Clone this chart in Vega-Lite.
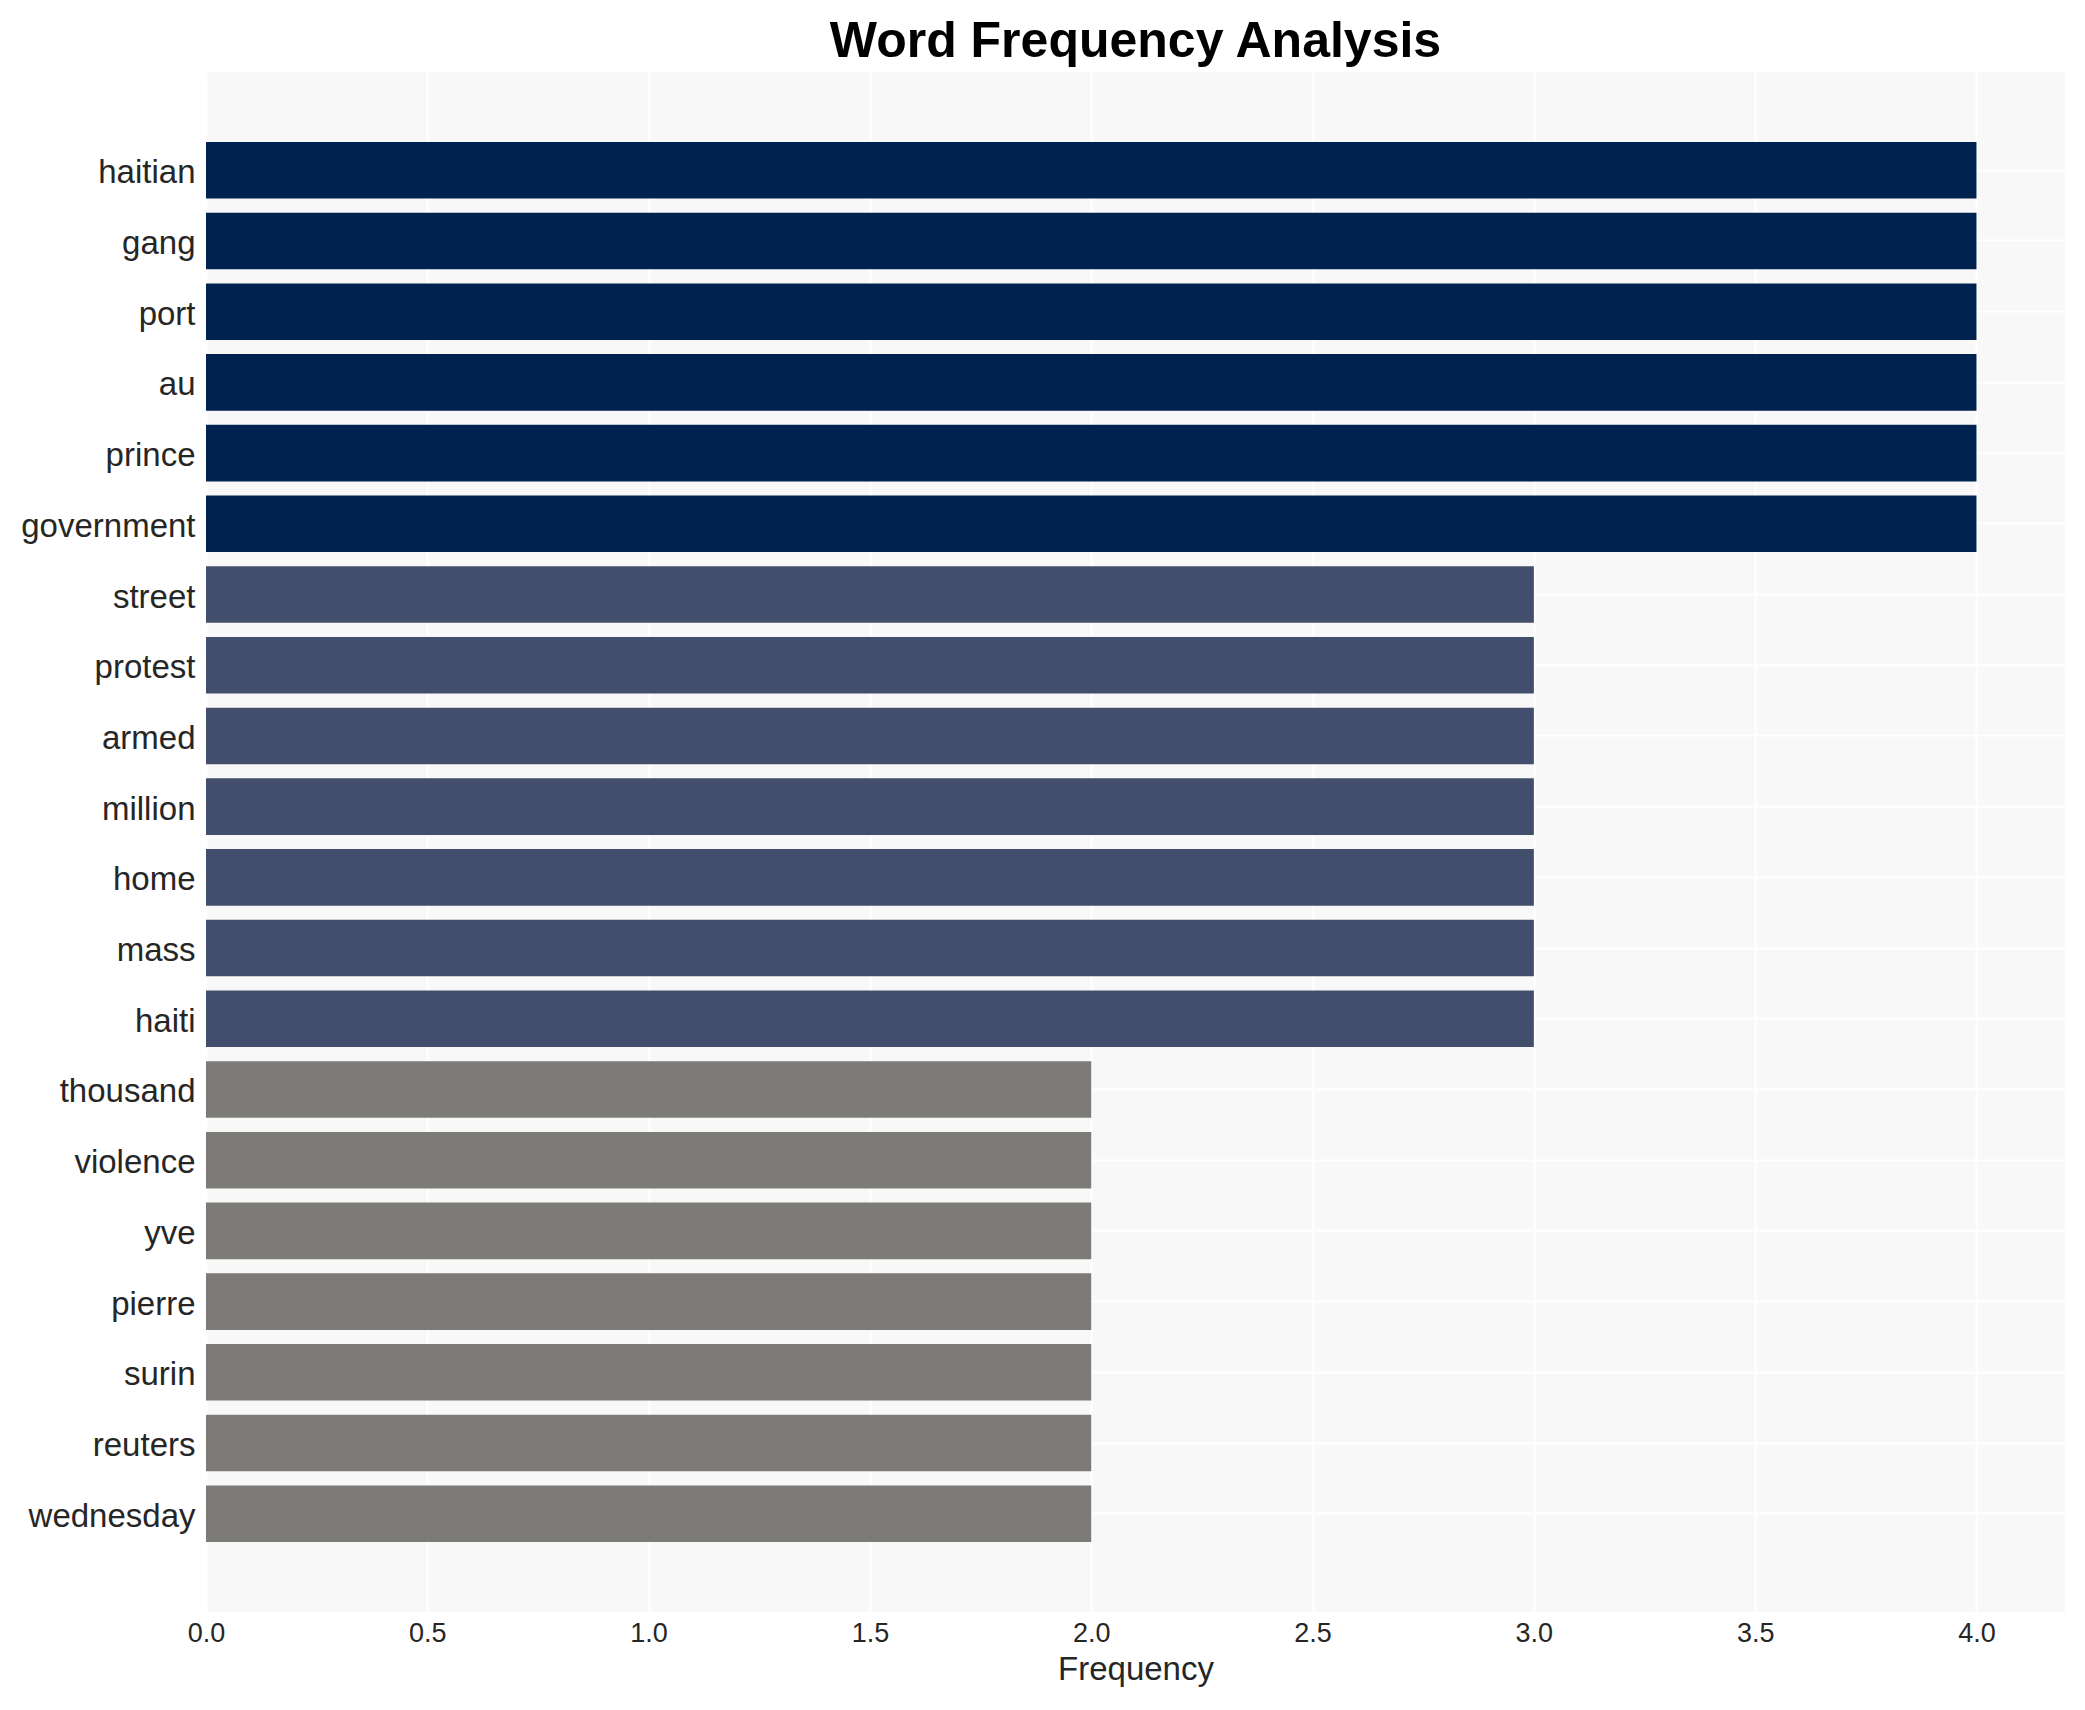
{
  "$schema": "https://vega.github.io/schema/vega-lite/v6.json",
  "width": 1859,
  "height": 1540,
  "autosize": {"type": "none"},
  "padding": {"left": 206, "top": 72, "right": 20, "bottom": 98},
  "background": "#ffffff",
  "view": {"fill": "#f8f8f8", "stroke": null},
  "title": {
    "text": "Word Frequency Analysis",
    "font": "Liberation Sans",
    "fontSize": 50,
    "fontWeight": "bold",
    "color": "#000000",
    "anchor": "middle",
    "offset": 5
  },
  "data": {
    "values": [
      {"word": "haitian", "count": 4},
      {"word": "gang", "count": 4},
      {"word": "port", "count": 4},
      {"word": "au", "count": 4},
      {"word": "prince", "count": 4},
      {"word": "government", "count": 4},
      {"word": "street", "count": 3},
      {"word": "protest", "count": 3},
      {"word": "armed", "count": 3},
      {"word": "million", "count": 3},
      {"word": "home", "count": 3},
      {"word": "mass", "count": 3},
      {"word": "haiti", "count": 3},
      {"word": "thousand", "count": 2},
      {"word": "violence", "count": 2},
      {"word": "yve", "count": 2},
      {"word": "pierre", "count": 2},
      {"word": "surin", "count": 2},
      {"word": "reuters", "count": 2},
      {"word": "wednesday", "count": 2}
    ]
  },
  "mark": {"type": "bar"},
  "encoding": {
    "y": {
      "field": "word",
      "type": "nominal",
      "sort": null,
      "scale": {"paddingInner": 0.2, "paddingOuter": 0.99},
      "axis": {
        "title": null,
        "bandPosition": 0.5,
        "grid": true,
        "gridColor": "#ffffff",
        "gridWidth": 2,
        "domain": false,
        "ticks": false,
        "labelFont": "Liberation Sans",
        "labelFontSize": 33,
        "labelColor": "#262626",
        "labelPadding": 11,
        "labelOffset": 3,
        "zindex": 0
      }
    },
    "x": {
      "field": "count",
      "type": "quantitative",
      "scale": {"domain": [0, 4.2], "nice": false, "zero": true},
      "axis": {
        "title": "Frequency",
        "titleFont": "Liberation Sans",
        "titleFontSize": 33,
        "titleFontWeight": "normal",
        "titleColor": "#262626",
        "titlePadding": 7,
        "values": [0, 0.5, 1, 1.5, 2, 2.5, 3, 3.5, 4],
        "format": ".1f",
        "grid": true,
        "gridColor": "#ffffff",
        "gridWidth": 2,
        "domain": false,
        "ticks": false,
        "labelFlush": false,
        "labelFont": "Liberation Sans",
        "labelFontSize": 27,
        "labelColor": "#262626",
        "labelPadding": 8,
        "zindex": 0
      }
    },
    "color": {
      "field": "count",
      "type": "ordinal",
      "scale": {"domain": [2, 3, 4], "range": ["#7c7b78", "#434e6c", "#00224e"]},
      "legend": null
    }
  }
}
